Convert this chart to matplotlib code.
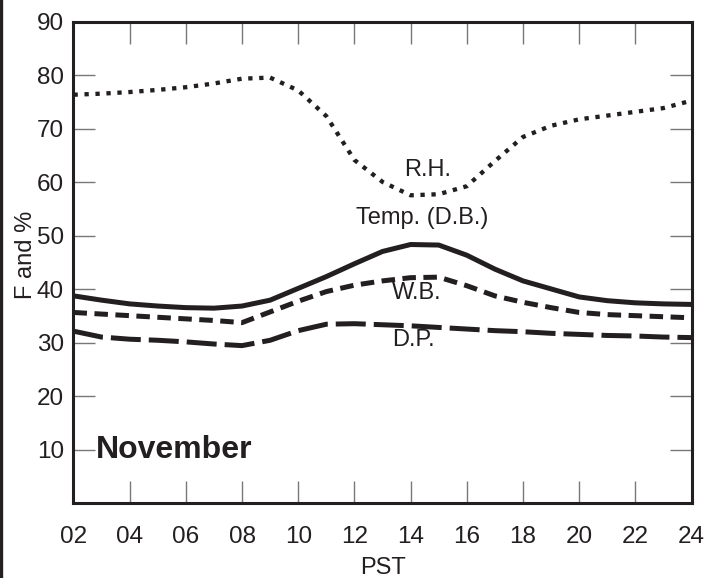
import numpy as np
import matplotlib
matplotlib.use("Agg")
from matplotlib import pyplot as plt
from matplotlib.lines import Line2D

plt.rcParams['font.family'] = ['Liberation Sans', 'DejaVu Sans']

# hourly readings, November (PST)
hours = [2, 3, 4, 5, 6, 7, 8, 9, 10, 11, 12, 13, 14, 15, 16, 17, 18, 19, 20, 21, 22, 23, 24]
rh = [76.4, 76.6, 76.9, 77.3, 77.8, 78.5, 79.4, 79.6, 77.2, 72.4, 64.2, 60.1, 57.6, 57.8,
      59.3, 64.0, 68.5, 70.6, 71.8, 72.5, 73.2, 73.9, 75.3]
temp_db = [38.8, 38.0, 37.3, 36.9, 36.6, 36.5, 36.9, 38.0, 40.2, 42.4, 44.8, 47.1, 48.4, 48.3,
           46.4, 43.8, 41.6, 40.1, 38.6, 37.9, 37.5, 37.3, 37.2]
wet_bulb = [35.7, 35.4, 35.1, 34.8, 34.5, 34.2, 33.8, 35.8, 37.8, 39.6, 40.8, 41.6, 42.2, 42.3,
            40.7, 38.8, 37.6, 36.6, 35.7, 35.3, 35.1, 34.9, 34.7]
dew_point = [32.2, 31.1, 30.7, 30.5, 30.2, 29.8, 29.5, 30.5, 32.3, 33.5, 33.6, 33.4, 33.2, 32.9,
             32.6, 32.3, 32.1, 31.8, 31.6, 31.4, 31.3, 31.1, 31.0]

xticks = list(range(2, 25, 2))
xlabels = ['%02d' % h for h in xticks]
yticks = list(range(10, 91, 10))

ink = '#231f20'

fig = plt.figure(figsize=(7.1, 5.78), dpi=100)
ax = fig.add_axes([0.1035, 0.129, 0.8705, 0.833])

ax.plot(hours, rh, color=ink, lw=3.1, linestyle=(0, (1.0, 1.55)), dash_capstyle='butt')
ax.plot(hours, temp_db, color=ink, lw=3.6, solid_capstyle='butt', solid_joinstyle='round')
ax.plot(hours, wet_bulb, color=ink, lw=3.6, linestyle=(0, (2.7, 1.5)), dash_capstyle='butt')
ax.plot(hours, dew_point, color=ink, lw=3.6, linestyle=(0, (6.0, 1.6)), dash_capstyle='butt')

ax.text(14.6, 62.3, 'R.H.', fontsize=17, ha='center', va='center', color=ink)
ax.text(14.4, 53.4, 'Temp. (D.B.)', fontsize=17, ha='center', va='center', color=ink)
ax.text(14.2, 39.3, 'W.B.', fontsize=17, ha='center', va='center', color=ink)
ax.text(14.1, 30.6, 'D.P.', fontsize=17, ha='center', va='center', color=ink)
ax.text(2.8, 10, 'November', fontsize=23, fontweight='bold', ha='left', va='center', color=ink)

ax.set_xlim(2, 24)
ax.set_ylim(0, 90)
ax.set_xticks(xticks)
ax.set_xticklabels(xlabels)
ax.set_yticks(yticks)

ax.tick_params(axis='both', direction='in', length=16, width=1.0, color='#777777',
               labelsize=17.5, labelcolor=ink, top=True, right=True)
ax.tick_params(axis='x', pad=16)
ax.tick_params(axis='y', pad=7)

for sp in ax.spines.values():
    sp.set_linewidth(2.2)
    sp.set_color(ink)

ax.set_xlabel('PST', fontsize=17, color=ink, va='center')
ax.xaxis.set_label_coords(0.5, -0.134)
ax.set_ylabel('F and %', fontsize=17, color=ink, va='center')
ax.yaxis.set_label_coords(-0.077, 0.516)

# frame line down the left edge of the page
fig.add_artist(Line2D([0.002, 0.002], [0, 1], transform=fig.transFigure, color=ink, lw=2.4))

plt.savefig('out.png', dpi=100)
